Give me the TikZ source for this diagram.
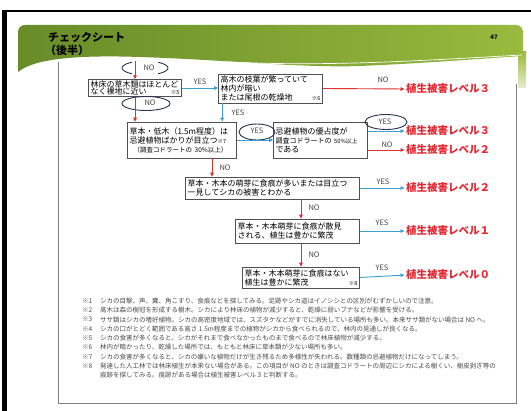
\documentclass[tikz,border=0pt]{standalone}
\usepackage{fontspec}
\setmainfont{Noto Sans CJK JP}
\usetikzlibrary{arrows.meta, positioning, shapes.geometric}
\tikzset{>/.tip={Triangle[length=4pt,width=3.6pt]}}
\definecolor{boxgray}{RGB}{80,80,80}
\definecolor{yngray}{RGB}{70,70,70}
\definecolor{notegray}{RGB}{75,75,75}
\definecolor{lvred}{RGB}{230,40,50}
\definecolor{nored}{RGB}{220,50,50}
\definecolor{yesblue}{RGB}{60,160,210}
\definecolor{ovalblue}{RGB}{40,50,80}
\definecolor{bannerdark}{RGB}{104,140,40}
\definecolor{bannerlight}{RGB}{152,186,62}

\begin{document}
\begin{tikzpicture}[x=1pt, y=-1pt,
  box/.style={draw=boxgray, line width=0.6pt, inner xsep=2pt, inner ysep=1pt, align=left, font=\fontsize{8}{9}\selectfont},
  yn/.style={font=\fontsize{7.5}{8}\selectfont, text=yngray, inner sep=0pt},
  level/.style={font=\fontsize{10.5}{12}\selectfont\bfseries, text=lvred, anchor=west, inner sep=0pt},
  yesline/.style={->, draw=yesblue, line width=0.9pt},
  noline/.style={->, draw=nored, line width=0.9pt},
  oval/.style={draw=ovalblue, line width=0.9pt},
  note/.style={font=\fontsize{6.5}{7}\selectfont, text=notegray, anchor=west, inner sep=0pt},
  heading/.style={font=\fontsize{11}{12}\selectfont\bfseries, anchor=west, inner sep=0pt}]
\useasboundingbox (0,0) rectangle (531,411);
\fill[white] (0,0) rectangle (531,411);

% slide frame
\fill[black] (2,10) rectangle (7,411);
\draw[black, line width=2.5pt] (2,11) -- (531,11);
\draw[gray, line width=0.8pt] (58,62) -- (58,403) -- (516,403) -- (516,84);

% banner
\shade[left color=bannerdark, right color=bannerlight] (18,72) {[rounded corners=7pt] -- (18,25) -- (523,25)} -- (523,56)
  .. controls (490,58) and (430,63) .. (360,66) .. controls (300,68) and (230,60) .. (140,57)
  .. controls (80,55) and (35,58) .. (18,72) -- cycle;
\shade[top color=bannerlight, bottom color=bannerlight!25] (518,52) rectangle (526,88);
\draw[white, line width=0.7pt] (230,62) .. controls (330,67) and (430,60) .. (522,55);
\node[heading] (title) at (48,37) {チェックシート};
\node[heading, below=2pt of title.south west, anchor=north west, xshift=-3pt] (subtitle) {（後半）};
\node[font=\fontsize{6}{7}\selectfont\bfseries, inner sep=0pt] (page) at (494,37) {47};

% boxes
\node[box, text width=89pt, minimum height=16pt, font=\fontsize{8}{7.4}\selectfont] (b1) at (135,88)
  {林床の草木類はほとんど\\なく裸地に近い\hfill{\fontsize{5.5}{6}\selectfont ※5}};
\node[box, text width=100pt, minimum height=29pt] (b2) at (270.5,88.5)
  {高木の枝葉が繁っていて\\林内が暗い\\または尾根の乾燥地\hfill{\fontsize{5.5}{6}\selectfont ※6}\hspace*{6pt}};
\node[box, text width=105pt, minimum height=36pt] (b3) at (182,140)
  {草本・低木（1.5m程度）は\\忌避植物ばかりが目立つ{\fontsize{5.5}{6}\selectfont ※7}\\\hspace*{4pt}{\fontsize{6.5}{9}\selectfont （調査コドラートの 30\%以上）}};
\node[box, text width=90pt, minimum height=36pt] (b4) at (320.5,140)
  {忌避植物の優占度が\\{\fontsize{7}{9}\selectfont 調査コドラートの {\fontsize{5.8}{9}\selectfont 50\%以上}}\\である};
\node[box, text width=170pt, minimum height=22pt] (b5) at (272.5,188)
  {草本・木本の萌芽に食痕が多いまたは目立つ\\一見してシカの被害とわかる};
\node[box, text width=120pt, minimum height=24pt] (b6) at (297.5,231)
  {草本・木本萌芽に食痕が散見\\される、植生は豊かに繁茂};
\node[box, text width=113pt, minimum height=21pt] (b7) at (301,277.5)
  {草本・木本萌芽に食痕はない\\植生は豊かに繁茂\hfill{\fontsize{5.5}{6}\selectfont ※8}\hspace*{6pt}};

% results
\node[level] (l3a) at (406,89) {植生被害レベル３};
\node[level] (l3b) at (406,131) {植生被害レベル３};
\node[level] (l2a) at (406,150) {植生被害レベル２};
\node[level] (l2b) at (406,188) {植生被害レベル２};
\node[level] (l1) at (406,231) {植生被害レベル１};
\node[level] (l0) at (406,275) {植生被害レベル０};

% yes / no labels
\node[yn] (no0) at (149,68) {NO};
\node[yn] (no1) at (150,103) {NO};
\node[yn] (yes1) at (200,82) {YES};
\node[yn] (no2) at (383,80) {NO};
\node[yn] (yes2) at (238,113) {YES};
\node[yn] (yes3) at (257,131) {YES};
\node[yn] (yes4) at (385,122) {YES};
\node[yn] (no4) at (387,145) {NO};
\node[yn] (no3) at (225,168) {NO};
\node[yn] (yes5) at (383,182) {YES};
\node[yn] (no5) at (314,208) {NO};
\node[yn] (yes6) at (382,223) {YES};
\node[yn] (no6) at (314,255) {NO};
\node[yn] (yes7) at (382,268) {YES};

% ovals
\draw[oval] (145,68) ++(125:23 and 7) arc[start angle=125, end angle=235, x radius=23, y radius=7];
\draw[oval] (145,68) ++(-55:23 and 7) arc[start angle=-55, end angle=55, x radius=23, y radius=7];
\node[oval, ellipse, minimum width=48pt, minimum height=14pt, inner sep=0pt] (e2) at (146,103.5) {};
\node[oval, ellipse, minimum width=36pt, minimum height=16pt, inner sep=0pt] (e3) at (257,132) {};
\node[oval, ellipse, minimum width=42pt, minimum height=15pt, inner sep=0pt] (e4) at (386,122) {};

% connectors
\coordinate (top) at (135,61);
\coordinate (y2) at ([xshift=4pt]b2.south west);
\coordinate (c3) at ([xshift=30pt]b3.south);
\draw[noline] (top) -- (top |- b1.north);
\draw[noline] (b1.south) -- (b1.south |- b3.north);
\draw[yesline] (b1.east) -- (b1.east -| b2.west);
\draw[noline, shorten >=1.5pt] (b2.east) -- (l3a.west);
\draw[yesline] (y2) -- (y2 |- b3.north);
\draw[yesline] (b3.east) -- (b4.west);
\draw[yesline, shorten >=1.5pt] ([yshift=9pt]b4.east) -- (l3b.west);
\draw[noline, shorten >=1.5pt] ([yshift=-10pt]b4.east) -- (l2a.west);
\draw[noline] (c3) -- (c3 |- b5.north);
\draw[yesline, shorten >=1.5pt] (b5.east) -- (l2b.west);
\draw[noline] (b5.south -| b7.north) -- (b6.north -| b7.north);
\draw[yesline, shorten >=1.5pt] (b6.east) -- (l1.west);
\draw[noline] (b6.south -| b7.north) -- (b7.north);
\draw[yesline, shorten >=1.5pt] (b7.east) -- (l0.west);

% notes
\foreach \t [count=\i] in {
  {シカの目撃、声、糞、角こすり、食痕などを探してみる。足跡やシカ道はイノシシとの区別がむずかしいので注意。},
  {高木は森の樹冠を形成する樹木。シカにより林床の植物が減少すると、乾燥に弱いブナなどが影響を受ける。},
  {ササ類はシカの嗜好植物。シカの高密度地域では、スズタケなどがすでに消失している場所も多い。本来ササ類がない場合は NO へ。},
  {シカの口がとどく範囲である高さ 1.5m程度までの植物がシカから食べられるので、林内の見通しが良くなる。},
  {シカの食害が多くなると、シカがそれまで食べなかったものまで食べるので林床植物が減少する。},
  {林内が暗かったり、乾燥した場所では、もともと林床に草本類が少ない場所も多い。},
  {シカの食害が多くなると、シカの嫌いな植物だけが生き残るため多様性が失われる。数種類の忌避植物だけになってしまう。},
  {発達した人工林では林床植生が本来ない場合がある。この項目が NO のときは調査コドラートの周辺にシカによる樹くい、樹皮剥ぎ等の}}
{
  \node[note] (mark\i) at (82,291.7+9.3*\i) {※\i};
  \node[note] (fn\i) at (100,291.7+9.3*\i) {\t};
}
\node[note, below=2.4pt of fn8.south west, anchor=north west] (fn9) {痕跡を探してみる。痕跡がある場合は植生被害レベル３と判断する。};
\end{tikzpicture}
\end{document}
